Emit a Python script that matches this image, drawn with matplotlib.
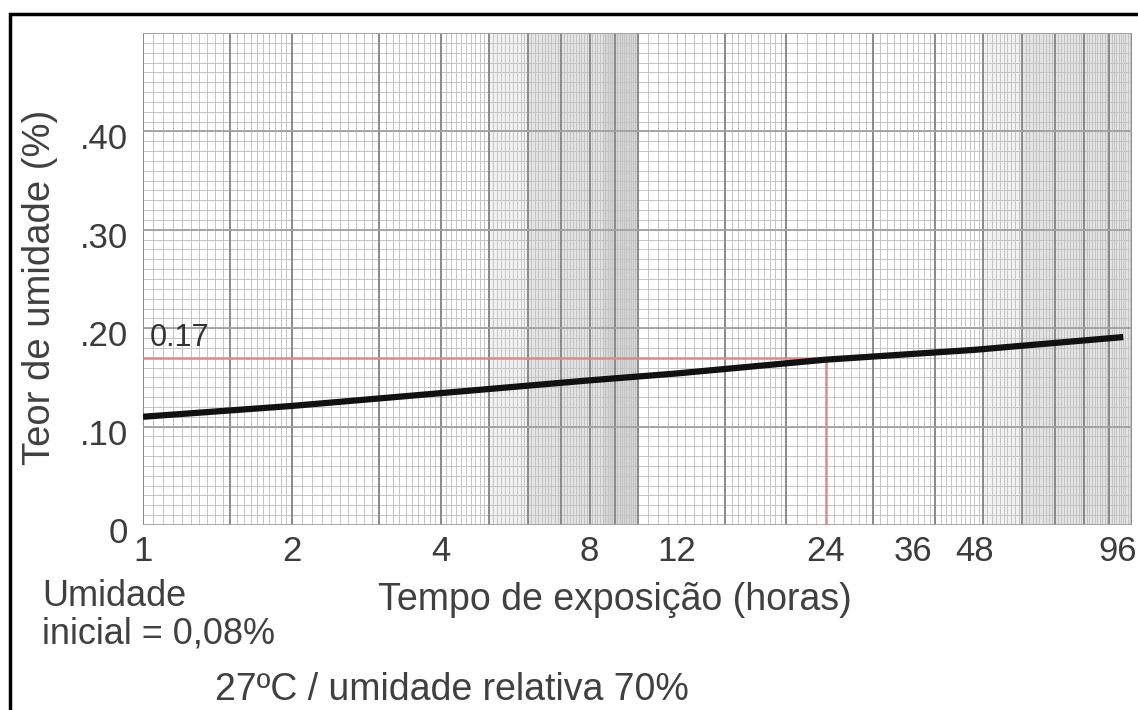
import numpy as np
import matplotlib
matplotlib.use("Agg")
import matplotlib.pyplot as plt
from matplotlib.patches import Rectangle
from matplotlib.ticker import NullLocator
from matplotlib.transforms import ScaledTranslation

plt.rcParams['font.family'] = ['Liberation Sans', 'DejaVu Sans']

# curve (hours, moisture %)
hours = [1, 2, 4, 8, 12, 24, 48, 96]
moisture = [0.110, 0.121, 0.134, 0.147, 0.154, 0.168, 0.178, 0.191]

# reading at 24 h
read_hour = 24
read_value = 0.17

x_ticks = [1, 2, 4, 8, 12, 24, 36, 48, 96]
x_labels = ['1', '2', '4', '8', '12', '24', '36', '48', '96']
y_ticks = [0, 0.1, 0.2, 0.3, 0.4]
y_labels = ['0', '.10', '.20', '.30', '.40']

W, H = 1138, 710
fig = plt.figure(figsize=(W / 100, H / 100), dpi=100)
ax = fig.add_axes([143 / W, 1 - 525 / H, (1132 - 143) / W, (525 - 33) / H])
ax.set_xscale('log')
ax.set_xlim(1, 100)
ax.set_ylim(0, 0.5)

# the paper gets darker where its lines crowd together
for a, b, c in [(5, 6, '#f1f1f1'), (6, 8.5, '#e3e3e3'), (8.5, 10, '#d5d5d5'),
                (50, 60, '#f1f1f1'), (60, 100, '#e3e3e3')]:
    ax.axvspan(a, b, color=c, linewidth=0, zorder=0)

# log paper grid
fine_x = np.concatenate([np.arange(1, 2, 0.05), np.arange(2, 5, 0.1),
                         np.arange(5, 10, 0.1), np.arange(10, 20, 0.5),
                         np.arange(20, 50, 1), np.arange(50, 100, 1)])
major_x = [1, 1.5, 2, 3, 4, 5, 6, 7, 8, 9, 10, 15, 20, 30, 40, 50, 60, 70, 80, 90, 100]
fine_y = np.arange(0, 0.501, 0.01)
major_y = np.arange(0, 0.501, 0.1)

ax.vlines(fine_x, 0, 0.5, colors='#c4c4c4', linewidth=0.7, zorder=1)
ax.hlines(fine_y, 1, 100, colors='#c4c4c4', linewidth=0.7, zorder=1)
ax.vlines(major_x, 0, 0.5, colors='#8a8a8a', linewidth=1.4, zorder=2)
ax.hlines(major_y, 1, 100, colors='#a0a0a0', linewidth=1.3, zorder=2)

# reading lines
red = '#d98a8a'
ax.hlines(read_value, 1, read_hour, colors=red, linewidth=1.8, zorder=3)
ax.vlines(read_hour, 0, read_value, colors=red, linewidth=1.8, zorder=3)
ax.text(1.03, read_value + 0.005, '0.17', fontsize=22, color='#333333',
        ha='left', va='bottom', zorder=4)

ax.plot(hours, moisture, color='#111111', linewidth=4.5, solid_capstyle='butt', zorder=5)

for s in ax.spines.values():
    s.set_visible(False)
ax.set_xticks(x_ticks)
ax.set_xticklabels(x_labels)
ax.xaxis.set_minor_locator(NullLocator())
ax.set_yticks(y_ticks)
ax.set_yticklabels(y_labels)
ax.tick_params(axis='both', length=0, labelsize=25, labelcolor='#3c3c3c')
ax.tick_params(axis='x', pad=7)
ax.tick_params(axis='y', pad=11)
shift = ScaledTranslation(0, -5 / 100, fig.dpi_scale_trans)
for lab in ax.get_yticklabels():
    lab.set_transform(lab.get_transform() + shift)
last = ax.get_xticklabels()[-1]
last.set_transform(last.get_transform() + ScaledTranslation(-6 / 100, 0, fig.dpi_scale_trans))

txt = '#404040'
fig.text(40 / W, 1 - 287 / H, 'Teor de umidade (%)', rotation=90, fontsize=27.5,
         color=txt, ha='center', va='center')
fig.text(615 / W, 1 - 600 / H, 'Tempo de exposição (horas)', fontsize=27,
         color=txt, ha='center', va='center')
fig.text(42 / W, 1 - 615 / H, 'Umidade\ninicial = 0,08%', fontsize=26,
         color=txt, ha='left', va='center', linespacing=1.1)
fig.text(215 / W, 1 - 690 / H, '27ºC / umidade relativa 70%', fontsize=27,
         color=txt, ha='left', va='center')

fig.patches.append(Rectangle((10 / W, -0.1), 1.2, 1.1 - 14 / H, transform=fig.transFigure,
                             fill=False, edgecolor='black', linewidth=2.5))

fig.savefig('out.png', dpi=100)
